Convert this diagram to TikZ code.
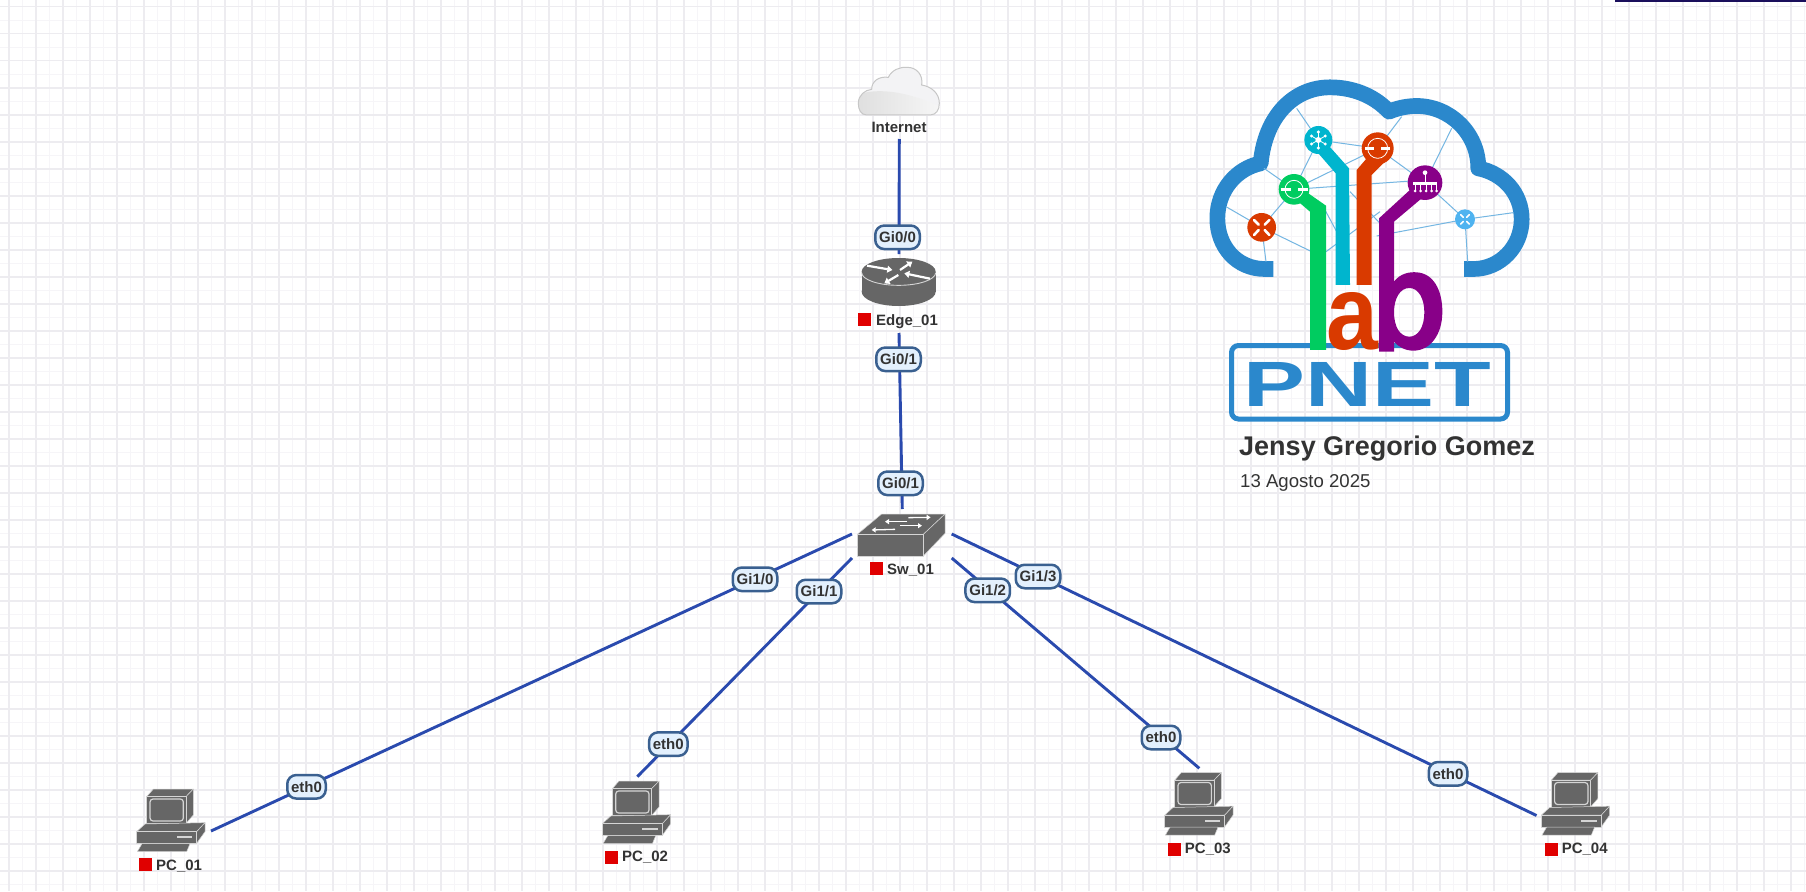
\documentclass[tikz,border=0pt]{standalone}
\usepackage{fontspec}
\setmainfont{Liberation Sans}
\usetikzlibrary{arrows.meta}
\definecolor{gridA}{HTML}{EDECF0}
\definecolor{gridB}{HTML}{F6F5F8}
\definecolor{linkc}{HTML}{2A4AAE}
\definecolor{lblfill}{HTML}{E3F0FD}
\definecolor{lbldraw}{HTML}{3A6090}
\definecolor{ink}{HTML}{333333}
\definecolor{devc}{HTML}{666666}
\definecolor{devl}{HTML}{D5D5D5}
\definecolor{redsq}{HTML}{E00000}
\definecolor{logob}{HTML}{2B88CC}
\definecolor{logot}{HTML}{74B6E2}
\definecolor{logog}{HTML}{00CC60}
\definecolor{logoc}{HTML}{00B5CE}
\definecolor{logor}{HTML}{D93A00}
\definecolor{logop}{HTML}{880088}
\definecolor{logol}{HTML}{4FB3F0}
\definecolor{topbar}{HTML}{1A0F5C}
\definecolor{cloudc}{HTML}{F3F3F5}
\tikzset{
  zoomat/.style 2 args={shift={(#1pt,-#2pt)},x=.33333pt,y=-.33333pt},
  link/.style={draw=linkc,line width=2.9pt},
  portlbl/.style={draw=lbldraw,fill=lblfill,line width=2.5pt,rounded corners=9pt,yshift=-.8pt,
    minimum height=23.5pt,inner sep=0pt,text=ink,font=\fontsize{15}{18}\bfseries\selectfont},
  gi/.style={portlbl,minimum width=44.5pt},
  eth/.style={portlbl,minimum width=38.5pt},
  devname/.style={anchor=base west,inner sep=0pt,text=ink,font=\fontsize{15}{18}\bfseries\selectfont},
  stat/.style={fill=redsq,draw=none,minimum size=13pt,inner sep=0pt,anchor=north west},
  body/.style={fill=devc,draw=devl,line width=.5pt,line join=round},
  wharrow/.style={draw=white,line width=2.2pt,-{Triangle[width=7pt,length=5pt]}},
  sarrow/.style={draw=white,line width=1.3pt,-{Triangle[width=5pt,length=4pt]}},
  net/.style={draw=logot,line width=1pt},
  nodeglyph/.style={draw=white,line cap=round},
}
\newcommand{\pcicon}[2]{%
\begin{scope}[zoomat={#1}{#2}]
  \path[body] (70,12)--(190,12)--(168,35)--(50,35)--cycle;
  \path[body] (190,12)--(190,90)--(168,115)--(168,35)--cycle;
  \path[body] (50,35)--(168,35)--(168,115)--(50,115)--cycle;
  \path[fill=devc,draw=devl,line width=1.2pt,rounded corners=3pt] (60,42) rectangle (160,108);
  \path[body] (45,117)--(225,113)--(200,140)--(20,140)--cycle;
  \path[body] (225,113)--(225,140)--(200,175)--(200,140)--cycle;
  \path[body] (20,140)--(200,140)--(200,175)--(20,175)--cycle;
  \path[fill=devl] (140,153) rectangle (186,160);
  \path[body] (36,176)--(180,176)--(170,200)--(22,200)--cycle;
\end{scope}}
\begin{document}
\begin{tikzpicture}[x=1pt,y=-1pt]
\useasboundingbox (0,0) rectangle (1806,891);
\fill[white] (0,0) rectangle (1806,891);
% grid
\foreach \k in {0,...,66}{\draw[gridB,line width=1.3pt] ({22.5+27*\k},0) -- ++(0,891);}
\foreach \k in {0,...,32}{\draw[gridB,line width=1.3pt] (0,{20.2+27*\k}) -- ++(1806,0);}
\foreach \k in {0,...,66}{\draw[gridA,line width=1.6pt] ({9+27*\k},0) -- ++(0,891);}
\foreach \k in {0,...,32}{\draw[gridA,line width=1.6pt] (0,{6.7+27*\k}) -- ++(1806,0);}
\fill[topbar] (1615,0) rectangle (1806,2);

% coordinates for connector ends
\coordinate (inetS) at (899.3,139);
\coordinate (edgeN) at (899,254);
\coordinate (edgeS) at (899,333);
\coordinate (swN) at (902.3,509);
\coordinate (swA) at (852,534);
\coordinate (swB) at (852,558);
\coordinate (swC) at (951.7,558);
\coordinate (swD) at (951.7,534);
\coordinate (pcA) at (211,831);
\coordinate (pcB) at (637.3,776.7);
\coordinate (pcC) at (1199.3,768.3);
\coordinate (pcD) at (1536.5,815.5);

% connectors
\draw[link] (inetS) -- (edgeN);
\draw[link] (edgeS) -- (swN);
\draw[link] (swA) -- (pcA);
\draw[link] (swB) -- (pcB);
\draw[link] (swC) -- (pcC);
\draw[link] (swD) -- (pcD);

% port labels
\node[gi] (lbE0) at (897.5,236.5) {Gi0/0};
\node[gi] (lbE1) at (898.5,358.5) {Gi0/1};
\node[gi] (lbS1) at (900.5,482.5) {Gi0/1};
\node[gi] (lbA) at (755,578.5) {Gi1/0};
\node[gi] (lbB) at (819,590.7) {Gi1/1};
\node[gi] (lbC) at (987.7,589.5) {Gi1/2};
\node[gi] (lbD) at (1038,575.7) {Gi1/3};
\node[eth] (ethA) at (306.5,786) {eth0};
\node[eth] (ethB) at (668.3,743.3) {eth0};
\node[eth] (ethC) at (1161,736.7) {eth0};
\node[eth] (ethD) at (1448,773) {eth0};

% Internet cloud
\begin{scope}[zoomat={820}{50}]
  \def\cloudpath{(140,195) .. controls (122,195) and (115,178) .. (115,160) .. controls (115,135) and (135,120) .. (155,118) .. controls (155,95) and (175,78) .. (205,82) .. controls (215,60) and (240,50) .. (262,52) .. controls (290,52) and (310,75) .. (305,105) .. controls (335,110) and (358,130) .. (358,160) .. controls (358,180) and (348,195) .. (330,195) -- cycle}
  \fill[cloudc] \cloudpath;
  \begin{scope}
    \clip \cloudpath;
    \shade[left color=black!13,right color=black!3] (100,140) .. controls (170,105) and (280,130) .. (370,175) -- (370,200) -- (100,200) -- cycle;
  \end{scope}
  \draw[black!22,line width=1pt] \cloudpath;
\end{scope}
\node[anchor=base,inner sep=0pt,text=ink,font=\fontsize{15}{18}\bfseries\selectfont] (inet) at (899,132.5) {Internet};

% router
\begin{scope}[zoomat={855}{250}]
  \fill[devc] (20,65) rectangle (242,125);
  \fill[devc] (131,125) ellipse[x radius=111,y radius=43];
  \fill[devc] (131,65) ellipse[x radius=111,y radius=41];
  \draw[devl,line width=.9pt] (20,68) arc[start angle=180,end angle=0,x radius=111,y radius=38];
  \draw[wharrow] (36,47) -- (112,60);
  \draw[wharrow] (135,60) -- (172,35);
  \draw[wharrow] (130,75) -- (88,100);
  \draw[wharrow] (225,86) -- (148,70);
\end{scope}
\node[stat] (edgeSt) at (858,313) {};
\node[devname] (edge) at (876,325) {Edge\_01};

% switch
\begin{scope}[zoomat={850}{505}]
  \path[body] (22,88)--(95,27)--(285,27)--(220,88)--cycle;
  \path[body] (285,27)--(285,85)--(220,153)--(220,88)--cycle;
  \path[body] (22,88)--(220,88)--(220,153)--(22,153)--cycle;
  \draw[sarrow] (175,38) -- (242,37);
  \draw[sarrow] (172,50) -- (105,50);
  \draw[sarrow] (150,62) -- (216,62);
  \draw[sarrow] (135,73) -- (65,75);
\end{scope}
\node[stat] (swSt) at (869.3,562) {};
\node[devname] (sw) at (887,574) {Sw\_01};

% PCs
\pcicon{130}{785}
\node[stat] (pc1St) at (139,858) {};
\node[devname] (pc1) at (156,870) {PC\_01};
\pcicon{595.7}{777}
\node[stat] (pc2St) at (605,850.7) {};
\node[devname] (pc2) at (622,861.7) {PC\_02};
\pcicon{1158}{768.5}
\node[stat] (pc3St) at (1167.7,842.3) {};
\node[devname] (pc3) at (1184.7,853.3) {PC\_03};
\pcicon{1534.6}{768.5}
\node[stat] (pc4St) at (1544.6,842.3) {};
\node[devname] (pc4) at (1561.6,853.3) {PC\_04};

% PNET logo
\draw[logob,line width=5pt,rounded corners=7pt] (1231.5,345.5) rectangle (1507.5,419);
\node[anchor=base west,inner sep=0pt,text=logob] (pnet) at (1243.5,406.7) {\scalebox{1.45}[1]{\fontsize{64}{64}\bfseries\selectfont PNET}};
\begin{scope}[zoomat={1190}{60}]
  \draw[logob,line width=15.7pt,line join=round] (250,627) -- (225,627) .. controls (140,627) and (82,560) .. (82,475) .. controls (82,390) and (140,325) .. (212,310) .. controls (225,170) and (310,82) .. (420,82) .. controls (500,82) and (560,115) .. (597,155) .. controls (620,145) and (650,138) .. (680,138) .. controls (780,138) and (865,220) .. (865,325) .. controls (940,340) and (995,400) .. (995,478) .. controls (995,560) and (930,627) .. (850,627) -- (822,627);
  % mesh
  \draw[net] (320,145) -- (385,240) -- (563,265) -- (635,170);
  \draw[net] (563,265) -- (705,368) -- (785,205);
  \draw[net] (705,368) -- (825,478) -- (970,458);
  \draw[net] (825,478) -- (560,528);
  \draw[net] (825,478) -- (833,605);
  \draw[net] (312,388) -- (705,360);
  \draw[net] (312,388) -- (563,265);
  \draw[net] (222,325) -- (312,388) -- (215,502);
  \draw[net] (385,240) -- (312,388);
  \draw[net] (108,440) -- (215,502) -- (228,605);
  \draw[net] (215,502) -- (365,575);
  \draw[net] (408,575) -- (570,455);
  \draw[net] (480,395) -- (570,490);
  \draw[net] (405,450) -- (440,515);
  % trunks
  \fill[logog] (355,400) -- (408,437) -- (408,870) -- (360,870) -- (360,455) -- (325,425) -- cycle;
  \fill[logoc] (410,250) -- (477,325) -- (480,675) -- (437,675) -- (437,340) -- (385,280) -- cycle;
  \fill[logor] (590,300) -- (545,345) -- (545,675) -- (500,675) -- (500,330) -- (530,295) -- cycle;
  \fill[logop,even odd rule] (665,385) -- (695,415) -- (612,485) -- (612,665) .. controls (630,640) and (660,635) .. (680,637) .. controls (730,640) and (757,690) .. (757,755) .. controls (757,825) and (720,872) .. (670,872) .. controls (645,872) and (625,860) .. (612,845) -- (612,875) -- (567,875) -- (567,475) -- cycle
    (658,684) .. controls (685,684) and (703,715) .. (703,757) .. controls (703,800) and (685,830) .. (658,830) .. controls (630,830) and (612,800) .. (612,757) .. controls (612,715) and (630,684) .. (658,684) -- cycle;
  % circles
  \fill[logor] (215,502) circle[radius=43];
  \fill[logog] (312,388) circle[radius=46];
  \fill[logoc] (385,240) circle[radius=42];
  \fill[logor] (563,265) circle[radius=48];
  \fill[logop] (705,368) circle[radius=52];
  \fill[logol] (825,478) circle[radius=30];
  % glyphs
  \draw[nodeglyph,line width=2.6pt] (192,480) -- (206,494) (238,480) -- (224,494) (192,525) -- (206,510) (238,525) -- (224,510);
  \draw[nodeglyph,line width=.8pt] (312,388) circle[radius=27];
  \draw[nodeglyph,line width=2.6pt,line cap=butt] (272,388) -- (304,388) (324,388) -- (354,388);
  \draw[nodeglyph,line width=.8pt] (563,265) circle[radius=30];
  \draw[nodeglyph,line width=2.6pt,line cap=butt] (525,265) -- (553,265) (573,265) -- (601,265);
  \fill[white] (385,240) circle[radius=9];
  \foreach \t in {0,60,...,300}{
    \draw[nodeglyph,line width=.8pt] (385,240) -- ++({22*cos(\t+30)},{22*sin(\t+30)});
    \fill[white] (385,240) ++({24*cos(\t+30)},{24*sin(\t+30)}) circle[radius=5];
  }
  \fill[white] (705,338) circle[radius=7];
  \draw[nodeglyph,line width=1pt] (705,338) -- (705,370);
  \fill[white] (668,366) rectangle (742,375);
  \foreach \xx in {675,692,708,725,740}{
    \draw[nodeglyph,line width=.8pt] (\xx,370) -- (\xx,392);
    \fill[white] (\xx,393) circle[radius=4.5];
  }
  \draw[nodeglyph,line width=1.6pt] (812,464) -- (820,472) (838,464) -- (830,472) (812,492) -- (820,484) (838,492) -- (830,484);
  \node[anchor=base,inner sep=0pt,text=logor] (abA) at (488,870) {\scalebox{.88}[1]{\fontsize{106}{106}\bfseries\selectfont a}};
\end{scope}

% author
\node[anchor=base west,inner sep=0pt,text=ink,font=\fontsize{27}{32}\bfseries\selectfont] (author) at (1239,455) {Jensy Gregorio Gomez};
\node[anchor=base west,inner sep=0pt,text=ink,font=\fontsize{18.6}{22}\selectfont] (adate) at (1240,487) {13 Agosto 2025};
\end{tikzpicture}
\end{document}
